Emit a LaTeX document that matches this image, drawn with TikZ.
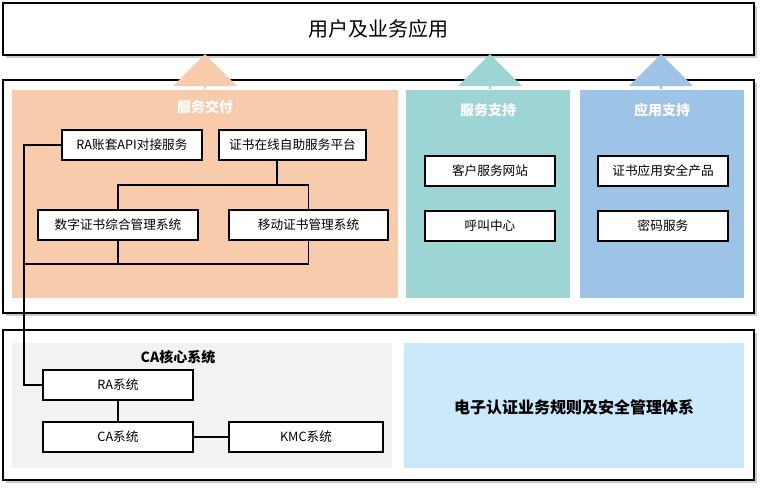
\documentclass[tikz,border=0pt]{standalone}
\usepackage{fontspec}
\setmainfont{Liberation Serif}
\newfontfamily\cjk{Noto Sans CJK SC}
\usetikzlibrary{shadows,shapes.arrows}
\definecolor{org}{HTML}{F8CBAD}
\definecolor{teal}{HTML}{9DD5D4}
\definecolor{blu}{HTML}{9DC3E6}
\definecolor{gry}{HTML}{F2F2F2}
\definecolor{lb}{HTML}{CCE9FB}
\tikzset{
 outer/.style={draw=black,line width=1.2pt,fill=white,drop shadow={shadow xshift=2pt,shadow yshift=-2pt,opacity=0.4}},
 item/.style={draw=black,fill=white,line width=0.8pt,font=\cjk\fontsize{9.5}{11}\selectfont},
 ptitle/.style={font=\cjk\bfseries\fontsize{10.5}{12}\selectfont,text=white},
 uparrow/.style={single arrow,draw=none,shape border rotate=90,minimum width=48pt,minimum height=26pt,single arrow head extend=6pt,inner sep=0pt},
 conn/.style={line width=0.8pt}
}
\begin{document}
\begin{tikzpicture}[x=0.75pt,y=-0.75pt]
\useasboundingbox (0,0) rectangle (766,492);
\node[outer,minimum width=751*0.75pt,minimum height=52*0.75pt,font=\cjk\fontsize{15}{18}\selectfont] (user) at (378.5,29) {用户及业务应用};
\draw[outer] (3,80) rectangle (754,313);
\node[uparrow,fill=org] (a1) at (205,72) {};
\node[uparrow,fill=teal] (a2) at (490,72) {};
\node[uparrow,fill=blu] (a3) at (661,72) {};
\fill[org] (12,90) rectangle (398,298);
\fill[teal] (406,90) rectangle (570,298);
\fill[blu] (580,90) rectangle (744,298);
\node[ptitle] (t1) at (205,107) {服务交付};
\node[ptitle] (t2) at (488,110) {服务支持};
\node[ptitle] (t3) at (662,110) {应用支持};
\tikzset{bx/.style={item,minimum width=#1*0.75pt,minimum height=30*0.75pt,inner sep=1pt}}
\node[bx=140] (ra) at (132,145) {RA账套API对接服务};
\node[bx=147] (zs) at (292.5,145) {证书在线自助服务平台};
\node[bx=160] (sz) at (118,225) {数字证书综合管理系统};
\node[bx=159] (yd) at (308.5,225) {移动证书管理系统};
\node[bx=130] (kf) at (490,171) {客户服务网站};
\node[bx=130] (hj) at (490,226) {呼叫中心};
\node[bx=130] (aq) at (663,171) {证书应用安全产品};
\node[bx=130] (mm) at (663,226) {密码服务};
\draw[outer] (3,330) rectangle (754,480);
\fill[gry] (12,343) rectangle (392,468);
\fill[lb] (404,343) rectangle (744,468);
\node[font=\cjk\bfseries\fontsize{10.5}{12}\selectfont] (cat) at (178,357) {CA核心系统};
\node[font=\cjk\bfseries\fontsize{12}{14}\selectfont] (rule) at (574,407) {电子认证业务规则及安全管理体系};
\node[bx=150] (rasys) at (118,385) {RA系统};
\node[bx=150] (casys) at (118,437) {CA系统};
\node[bx=154] (kmc) at (306,437) {KMC系统};
\coordinate (j) at (277,185);
\draw[conn] (zs.south -| j) -- (j);
\draw[conn] (sz.north) |- (j) -| (yd.north);
\draw[conn] (sz.south) -- (sz.south |- 0,264);
\draw[conn] (yd.south) |- (24,264);
\draw[conn] (ra.west) -| (24,385) -- (rasys.west);
\draw[conn] (rasys.south) -- (casys.north);
\draw[conn] (casys.east) -- (kmc.west);
\end{tikzpicture}
\end{document}
